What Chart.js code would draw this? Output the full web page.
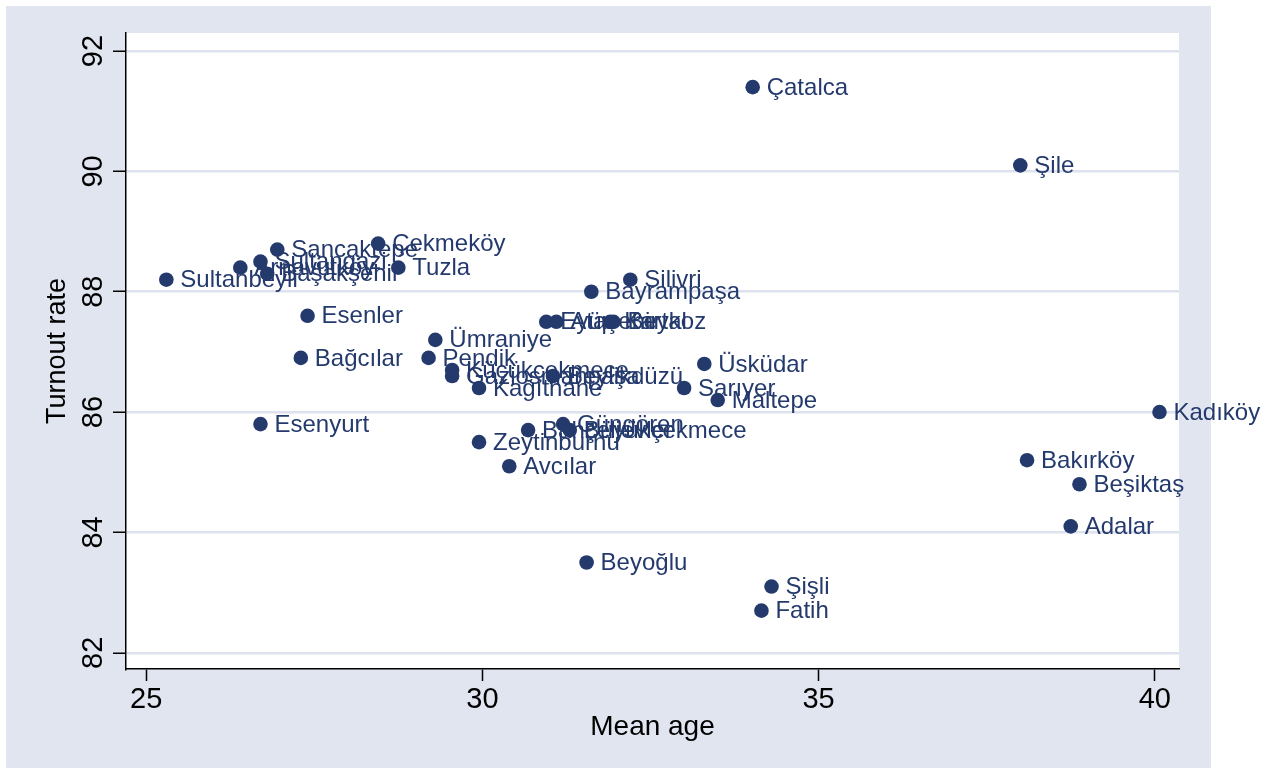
<!DOCTYPE html>
<html>
<head>
<meta charset="utf-8">
<script src="https://cdn.jsdelivr.net/npm/chart.js@4.4.1/dist/chart.umd.min.js"></script>
<style>
  html, body { margin: 0; padding: 0; background: #ffffff; }
  #wrap { position: relative; width: 1268px; height: 772px; }
  #frame { position: absolute; left: 6px; top: 6px; width: 1205px; height: 762px; background: #e0e5ef; }
  #chart { position: absolute; left: 0; top: 0; }
</style>
</head>
<body>
<div id="wrap">
  <div id="frame"></div>
  <canvas id="chart" width="1268" height="772"></canvas>
</div>
<script>
// Istanbul districts: mean age of residents vs. electoral turnout
const districts = [
  'Çatalca', 'Şile', 'Çekmeköy', 'Sancaktepe', 'Sultangazi', 'Arnavutköy',
  'Başakşehir', 'Tuzla', 'Sultanbeyli', 'Silivri', 'Bayrampaşa', 'Esenler',
  'Eyüp', 'Ataşehir', 'Kartal', 'Beykoz', 'Ümraniye', 'Üsküdar', 'Bağcılar',
  'Pendik', 'Küçükçekmece', 'Gaziosmanpaşa', 'Beylikdüzü', 'Kağıthane',
  'Sarıyer', 'Maltepe', 'Kadıköy', 'Esenyurt', 'Güngören', 'Bahçelievler',
  'Büyükçekmece', 'Zeytinburnu', 'Avcılar', 'Bakırköy', 'Beşiktaş', 'Adalar',
  'Beyoğlu', 'Şişli', 'Fatih'
];
const meanAge = [
  34.02, 38.0, 28.45, 26.95, 26.7, 26.4,
  26.8, 28.75, 25.3, 32.2, 31.62, 27.4,
  30.95, 31.1, 31.9, 31.95, 29.3, 33.3, 27.3,
  29.2, 29.55, 29.55, 31.05, 29.95,
  33.0, 33.5, 40.07, 26.7, 31.2, 30.68,
  31.3, 29.95, 30.4, 38.1, 38.88, 38.75,
  31.55, 34.3, 34.15
];
const turnout = [
  91.4, 90.1, 88.8, 88.7, 88.5, 88.4,
  88.3, 88.4, 88.2, 88.2, 88.0, 87.6,
  87.5, 87.5, 87.5, 87.5, 87.2, 86.8, 86.9,
  86.9, 86.7, 86.6, 86.6, 86.4,
  86.4, 86.2, 86.0, 85.8, 85.8, 85.7,
  85.7, 85.5, 85.1, 85.2, 84.8, 84.1,
  83.5, 83.1, 82.7
];
const xTicks = [25, 30, 35, 40];
const yTicks = [82, 84, 86, 88, 90, 92];

const NAVY = '#243a6d';
const FONT = "'Liberation Sans', Arial, sans-serif";

const points = districts.map((name, i) => ({ x: meanAge[i], y: turnout[i] }));

// white plot region
const plotBackground = {
  id: 'plotBackground',
  beforeDraw(chart) {
    const { ctx, chartArea: a } = chart;
    ctx.save();
    ctx.fillStyle = '#ffffff';
    ctx.fillRect(a.left, a.top, a.right - a.left, a.bottom - a.top);
    ctx.restore();
  }
};

// district name to the right of each marker
const markerLabels = {
  id: 'markerLabels',
  afterDatasetsDraw(chart) {
    const { ctx } = chart;
    const meta = chart.getDatasetMeta(0);
    ctx.save();
    ctx.font = '24px ' + FONT;
    ctx.fillStyle = NAVY;
    ctx.textAlign = 'left';
    ctx.textBaseline = 'middle';
    meta.data.forEach((pt, i) => {
      ctx.fillText(districts[i], pt.x + 14, pt.y + 1);
    });
    ctx.restore();
  }
};

new Chart(document.getElementById('chart'), {
  type: 'scatter',
  data: {
    datasets: [{
      data: points,
      pointRadius: 7.3,
      pointHoverRadius: 7.3,
      pointBackgroundColor: NAVY,
      pointBorderWidth: 0,
      borderColor: NAVY
    }]
  },
  options: {
    responsive: false,
    animation: false,
    events: [],
    layout: { padding: { left: 0, top: 33, right: 89, bottom: 0 } },
    plugins: {
      legend: { display: false },
      tooltip: { enabled: false }
    },
    scales: {
      x: {
        type: 'linear',
        min: 24.7,
        max: 40.36,
        afterBuildTicks(scale) { scale.ticks = xTicks.map(v => ({ value: v })); },
        afterFit(scale) { scale.height = 103; },
        border: { display: true, color: '#000000', width: 1.5 },
        grid: {
          drawOnChartArea: false,
          drawTicks: true,
          tickLength: 12,
          tickColor: '#000000',
          tickWidth: 1.5
        },
        ticks: {
          color: '#000000',
          font: { family: FONT, size: 29 },
          padding: 2,
          maxRotation: 0,
          autoSkip: false
        },
        title: {
          display: true,
          text: 'Mean age',
          color: '#000000',
          font: { family: FONT, size: 28, lineHeight: 1 },
          padding: { top: 0, bottom: 31 }
        }
      },
      y: {
        type: 'linear',
        min: 81.73,
        max: 92.3,
        afterBuildTicks(scale) { scale.ticks = yTicks.map(v => ({ value: v })); },
        afterFit(scale) { scale.width = 126; },
        border: { display: true, color: '#000000', width: 1.5 },
        grid: {
          color: '#dde2ee',
          lineWidth: 2.5,
          drawTicks: true,
          tickLength: 13,
          tickColor: '#000000',
          tickWidth: 1.5
        },
        ticks: {
          color: '#000000',
          font: { family: FONT, size: 29 },
          minRotation: 90,
          maxRotation: 90,
          crossAlign: 'center',
          autoSkip: false
        },
        title: {
          display: true,
          text: 'Turnout rate',
          color: '#000000',
          font: { family: FONT, size: 27, lineHeight: 1 },
          padding: { top: 44, bottom: 0 }
        }
      }
    }
  },
  plugins: [plotBackground, markerLabels]
});
</script>
</body>
</html>
